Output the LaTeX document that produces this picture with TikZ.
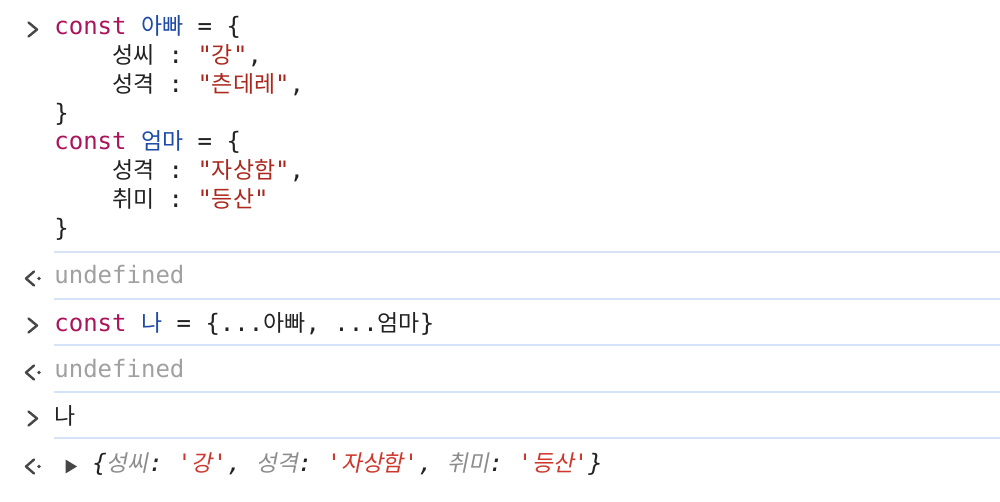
\documentclass[tikz,border=0pt]{standalone}
\usepackage{fontspec}
\setmonofont{DejaVu Sans Mono}
\newfontfamily\krfont[Scale=0.955]{Noto Sans CJK KR}
\newfontfamily\krslant[Scale=0.945,FakeSlant=0.2]{Noto Sans CJK KR}
\newcommand{\kr}[1]{{\krfont #1}}
\newcommand{\krit}[1]{{\krslant #1}}
\usepackage{tikz}
\usepackage{xcolor}
\definecolor{kwmagenta}{RGB}{170,20,90}
\definecolor{defblue}{RGB}{30,75,165}
\definecolor{strred}{RGB}{170,40,30}
\definecolor{prevred}{RGB}{205,55,45}
\definecolor{textdark}{RGB}{34,34,34}
\definecolor{dimgray}{RGB}{160,160,160}
\definecolor{keygray}{RGB}{140,140,140}
\definecolor{icongray}{RGB}{70,70,70}
\definecolor{rulerblue}{RGB}{214,226,248}

\begin{document}
\begin{tikzpicture}[x=0.5pt,y=-0.5pt,
  code/.style={anchor=base west, inner sep=0pt, text=textdark,
    font=\ttfamily\fontsize{12}{14}\selectfont\frenchspacing},
  prompt/.style={icongray, line width=1.2pt, line cap=round, line join=round}]
\useasboundingbox (0,0) rectangle (1000,502);
\fill[white] (0,0) rectangle (1000,502);

% Row separators
\foreach \y in {252,299,345,392,438}
  \draw[rulerblue, line width=1pt] (54,\y) -- (1000,\y);

% Input prompts
\foreach \b in {35,331,424}
  \draw[prompt] (28.5,\b-12.5) -- (37,\b-5.5) -- (28.5,\b+1.5);

% Result prompts
\foreach \b in {283,377,471} {
  \draw[prompt] (34,\b-11.5) -- (26,\b-4.5) -- (34,\b+2.5);
  \fill[icongray] (39,\b-4.5) circle (1.9);
}

% First input
\node[code] (abba) at (54,35) {\textcolor{kwmagenta}{const} \textcolor{defblue}{\kr{아빠}} = \{};
\node[code] (abbaname) at (111.6,63.75) {\kr{성씨} : \textcolor{strred}{"\kr{강}"},};
\node[code] (abbachar) at (111.6,92.5) {\kr{성격} : \textcolor{strred}{"\kr{츤데레}"},};
\node[code] (abbaend) at (54,121.25) {\}};
\node[code] (eomma) at (54,150) {\textcolor{kwmagenta}{const} \textcolor{defblue}{\kr{엄마}} = \{};
\node[code] (eommachar) at (111.6,178.75) {\kr{성격} : \textcolor{strred}{"\kr{자상함}"},};
\node[code] (eommahobby) at (111.6,207.5) {\kr{취미} : \textcolor{strred}{"\kr{등산}"}};
\node[code] (eommaend) at (54,236.25) {\}};

% Outputs and further inputs
\node[code, text=dimgray] (undef1) at (54,283) {undefined};
\node[code] (na) at (54,331) {\textcolor{kwmagenta}{const} \textcolor{defblue}{\kr{나}} = \{...\kr{아빠}, ...\kr{엄마}\}};
\node[code, text=dimgray] (undef2) at (54,377) {undefined};
\node[code] (nacall) at (54,424) {\kr{나}};

% Object preview
\fill[icongray] (65.5,459.5) -- (77,466.5) -- (65.5,473.5) -- cycle;
\node[code, font=\ttfamily\itshape\fontsize{12}{14}\selectfont\frenchspacing] (preview) at (92,471)
  {\{\textcolor{keygray}{\krit{성씨}}: \textcolor{prevred}{'\krit{강}'}, \textcolor{keygray}{\krit{성격}}: \textcolor{prevred}{'\krit{자상함}'}, \textcolor{keygray}{\krit{취미}}: \textcolor{prevred}{'\krit{등산}'}\}};
\end{tikzpicture}
\end{document}
